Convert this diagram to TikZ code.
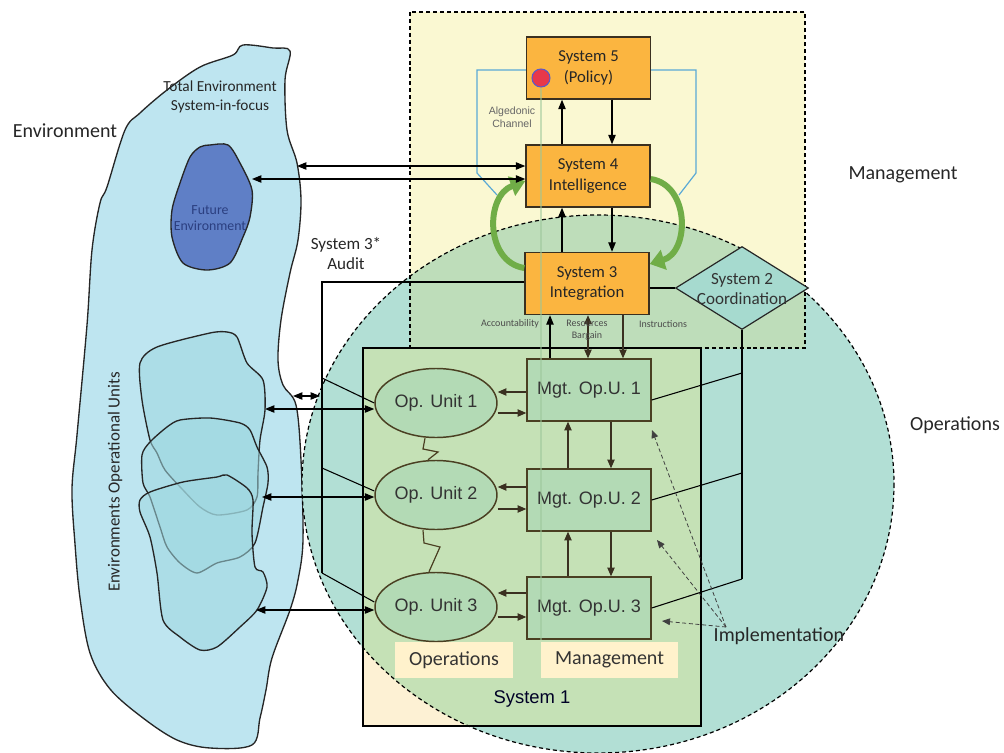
\documentclass[tikz,border=0pt]{standalone}
\usepackage{fontspec}
\setmainfont{Carlito}
\newfontfamily\arialf{Liberation Sans}
\usetikzlibrary{arrows.meta,shapes.geometric}
\definecolor{envblue}{HTML}{BEE5F0}
\definecolor{opblob}{HTML}{9FD8E0}
\definecolor{futblue}{HTML}{5F7FC6}
\definecolor{futtext}{HTML}{2B3F80}
\definecolor{mgtyellow}{HTML}{FAF8D2}
\definecolor{opteal}{HTML}{B2DFD5}
\definecolor{overgreen}{HTML}{BEDDBA}
\definecolor{sonegreen}{HTML}{C5E1B6}
\definecolor{cream}{HTML}{FDF1D4}
\definecolor{labelcream}{HTML}{FFF2CC}
\definecolor{nodegreen}{HTML}{B3DAB5}
\definecolor{sysorange}{HTML}{FBB540}
\definecolor{diamondfill}{HTML}{A6DACF}
\definecolor{greenarr}{HTML}{70AD47}
\definecolor{bluepoly}{HTML}{5AA9D6}
\definecolor{algred}{HTML}{E8384A}
\definecolor{algborder}{HTML}{5A5AC8}
\definecolor{brownline}{HTML}{4A3F22}
\definecolor{boxline}{HTML}{3A3020}
\definecolor{channelline}{HTML}{9CC79A}
\begin{document}
\begin{tikzpicture}[x=0.75pt,y=-0.75pt,
  sysbox/.style={draw=boxline, fill=sysorange, line width=1.1pt, minimum width=93pt, minimum height=46.5pt, inner sep=0pt, align=center, font=\fontsize{12.5}{15.5}\selectfont, text=black!85},
  mgtbox/.style={draw=brownline, fill=nodegreen, line width=1.1pt, minimum width=93pt, minimum height=46.5pt, inner sep=0pt, font=\arialf\fontsize{13.5}{16}\selectfont, text=black!80},
  opell/.style={ellipse, draw=brownline, fill=nodegreen, line width=1.1pt, minimum width=91.5pt, minimum height=51.75pt, inner sep=0pt, font=\arialf\fontsize{13.5}{16}\selectfont, text=black!80},
  conn/.style={line width=0.8pt, draw=black},
  arr/.style={conn, -{Triangle[length=7pt,width=5.5pt]}},
  darr/.style={conn, {Triangle[length=7pt,width=5.5pt]}-{Triangle[length=7pt,width=5.5pt]}},
  barr/.style={line width=0.9pt, draw=boxline, -{Triangle[length=6.5pt,width=5.5pt]}},
  bdarr/.style={line width=0.9pt, draw=boxline, {Triangle[length=6.5pt,width=5.5pt]}-{Triangle[length=6.5pt,width=5.5pt]}},
  garr/.style={line width=4.5pt, draw=greenarr, -{Triangle[length=11pt,width=15pt]}},
  implarr/.style={line width=0.6pt, draw=black!75, dash pattern=on 3pt off 2pt, -{Triangle[length=6pt,width=5pt]}},
  lbl/.style={font=\fontsize{15}{18}\selectfont, text=black!85},
  tiny/.style={font=\fontsize{7.5}{9}\selectfont, text=black!70, align=center},
  blobline/.style={draw=black!85, line width=1pt},
]
\useasboundingbox (0,0) rectangle (1004,753);

% ---------- environment ----------
\draw[blobline, fill=envblue] plot[smooth cycle, tension=0.55] coordinates {
 (243,45) (273,48) (290,51) (285,80) (287,130) (297,163) (301,200) (298,240) (290,273)
 (281,320) (278,360) (283,385) (296,405) (301,460) (303,540) (298,580) (290,610) (272,658)
 (266,690) (260,718) (252,745) (210,748) (177,740) (143,718) (110,689) (90,653) (80,598)
 (75,544) (72,489) (77,435) (87,325) (92,250) (100,203) (107,187) (125,130) (140,113)
 (167,90) (200,67) (233,55)};
\draw[blobline, fill=futblue] plot[smooth cycle, tension=0.5] coordinates {
 (200,147) (210,145) (228,145) (240,163) (252,190) (250,217) (243,237) (230,263) (207,270)
 (183,263) (172,237) (172,210) (180,183) (190,157)};
\draw[blobline, fill=opblob, fill opacity=0.55] plot[smooth cycle, tension=0.45] coordinates {
 (140,363) (157,347) (210,333) (227,332) (237,337) (247,363) (263,380) (265,410) (260,440)
 (258,473) (257,497) (247,510) (217,515) (200,507) (183,490) (165,470) (157,453) (150,440)
 (142,400)};
\draw[blobline, fill=opblob, fill opacity=0.55] plot[smooth cycle, tension=0.45] coordinates {
 (150,442) (167,427) (180,420) (210,418) (240,423) (250,430) (257,447) (267,467) (268,483)
 (263,507) (255,543) (240,557) (217,563) (197,573) (180,563) (167,547) (160,527) (150,497)
 (143,483) (142,455)};
\draw[blobline, fill=opblob, fill opacity=0.55] plot[smooth cycle, tension=0.45] coordinates {
 (140,500) (150,492) (183,482) (217,477) (227,475) (247,488) (253,500) (252,533) (255,567)
 (263,572) (267,587) (257,610) (240,627) (217,647) (200,650) (180,637) (163,620) (157,573)
 (150,537) (140,512)};

% ---------- backgrounds ----------
\fill[mgtyellow] (410,12) rectangle (805,348);
\fill[opteal] (598,484) ellipse [x radius=296, y radius=269];
\begin{scope}
  \clip (410,12) rectangle (805,348);
  \fill[overgreen] (598,484) ellipse [x radius=296, y radius=269];
\end{scope}
\fill[cream] (363,348) rectangle (701,726);
\begin{scope}
  \clip (363,348) rectangle (701,726);
  \fill[sonegreen] (598,484) ellipse [x radius=296, y radius=269];
\end{scope}
\draw[line width=0.9pt, dash pattern=on 3pt off 2.2pt] (598,484) ellipse [x radius=296, y radius=269];
\draw[line width=0.9pt, dash pattern=on 3pt off 2.2pt] (410,12) rectangle (805,348);
\draw[line width=0.9pt] (363,348) rectangle (701,726);

% ---------- label boxes ----------
\node[fill=labelcream, minimum width=88.5pt, minimum height=27pt, inner sep=0pt, font=\fontsize{15}{18}\selectfont, text=black!80] (opslbl) at (454,660) {Operations};
\node[fill=labelcream, minimum width=102.75pt, minimum height=27pt, inner sep=0pt, font=\fontsize{15}{18}\selectfont, text=black!80] (mgtlbl) at (609.5,660) {Management};
\node[font=\arialf\fontsize{13.8}{16}\selectfont, text=black!85!blue] (s1lbl) at (532,699) {System 1};

% ---------- algedonic ----------
\node[circle, fill=algred, draw=algborder, line width=0.8pt, minimum size=13.5pt, inner sep=0pt] (alg) at (541,78) {};

% ---------- main nodes ----------
\node[sysbox] (s5) at (588.5,68) {System 5\\(Policy)};
\node[sysbox] (s4) at (588,176) {System 4\\Intelligence};
\node[sysbox] (s3) at (587,283.5) {System 3\\Integration};
\node[diamond, draw=black!85, fill=diamondfill, line width=0.9pt, minimum width=99.75pt, minimum height=62.25pt, inner sep=0pt] (s2) at (742,288) {};
\node[align=center, font=\fontsize{12.8}{15.5}\selectfont, text=black!80] (s2t) at (742,289) {System 2\\Coordination};

\node[mgtbox] (m1) at (589,390) {Mgt. Op.U. 1};
\node[mgtbox] (m2) at (589,500) {Mgt. Op.U. 2};
\node[mgtbox] (m3) at (589,608) {Mgt. Op.U. 3};
\node[opell] (o1) at (436,403) {Op. Unit 1};
\node[opell] (o2) at (436,495) {Op. Unit 2};
\node[opell] (o3) at (436,607) {Op. Unit 3};

% channel line and blue polygon
\draw[channelline, line width=1.6pt, opacity=0.55] (alg.south) -- (alg.south |- m3.south);
\node[circle, fill=algred, draw=algborder, line width=0.8pt, minimum size=13.5pt, inner sep=0pt] at (alg) {};
\draw[bluepoly, line width=0.9pt] (s5.west |- 0,70) -- (477,70) -- (477,173) -- (497,195);
\draw[bluepoly, line width=0.9pt] (s5.east |- 0,70) -- (696,70) -- (696,173) -- (679,195);
\node[font=\arialf\fontsize{7.9}{9.5}\selectfont, text=black!60, align=center] (algt) at (512,117) {Algedonic\\Channel};

% ---------- green loops ----------
\draw[garr] (s3.west |- 0,268) .. controls (485,262) and (485,196) .. (s4.west |- 0,181);
\draw[garr] (s4.east |- 0,179) .. controls (690,185) and (690,252) .. (s3.east |- 0,264);

% ---------- management arrows ----------
\draw[arr] (s4.north -| 562,0) -- (s5.south -| 562,0);
\draw[arr] (s5.south -| 612,0) -- (s4.north -| 612,0);
\draw[arr] (s3.north -| 562,0) -- (s4.south -| 562,0);
\draw[arr] (s4.south -| 612,0) -- (s3.north -| 612,0);

% to environment
\coordinate (envA) at (297,166);
\coordinate (envF) at (252,179);
\draw[darr] (s4.west |- 0,166) -- (envA);
\draw[darr] (s4.west |- 0,179) -- (envF);

% system 3 - system 2
\draw[conn] (s3.east |- s2.west) -- (s2.west);
\coordinate (c1) at (742,373);
\coordinate (c2) at (742,473);
\coordinate (c3) at (742,579);
\draw[conn] (s2.south) -- (c3);
\draw[conn] (c1) -- (m1.east |- 0,400);
\draw[conn] (c2) -- (m2.east);
\draw[conn] (c3) -- (m3.east);

% system 3* audit
\coordinate (a0) at (322,282);
\coordinate (a1) at (322,378);
\coordinate (a2) at (322,468);
\coordinate (a3) at (322,573);
\draw[conn] (s3.west |- a0) -- (a0) -- (a3);
\draw[conn] (a1) -- (o1.west);
\draw[conn] (a2) -- (o2.west |- 0,491);
\draw[conn] (a3) -- (o3.west |- 0,602);
\node[align=center, font=\fontsize{12.8}{15}\selectfont, text=black!85] (aud) at (346,254) {System 3*\\Audit};

% S3 to system 1
\draw[arr] (m1.north -| 550,0) -- (s3.south -| 550,0);
\draw[bdarr] (m1.north -| 588,0) -- (s3.south -| 588,0);
\draw[barr] (s3.south -| 623,0) -- (m1.north -| 623,0);
\node[tiny] (acc) at (510,324) {Accountability};
\node[tiny] (res) at (587,330) {Resources\\Bargain};
\node[tiny] (ins) at (663,324) {Instructions};

% ---------- operations ----------
\coordinate (e1) at (265,409);
\coordinate (e2) at (262,497);
\coordinate (e3) at (256,610);
\draw[darr] (o1.west |- e1) -- (e1);
\draw[darr] (o2.west |- e2) -- (e2);
\draw[darr] (o3.west |- e3) -- (e3);
\coordinate (sa) at (293,396);
\coordinate (sb) at (320,396);
\draw[darr] (sa) -- (sb);

\draw[barr] (m1.west |- 0,392) -- (o1.east |- 0,392);
\draw[barr] (o1.east |- 0,413) -- (m1.west |- 0,413);
\draw[barr] (m2.west |- 0,487) -- (o2.east |- 0,487);
\draw[barr] (o2.east |- 0,509) -- (m2.west |- 0,509);
\draw[barr] (m3.west |- 0,593) -- (o3.east |- 0,593);
\draw[barr] (o3.east |- 0,617) -- (m3.west |- 0,617);

\draw[barr] (m2.north -| 568,0) -- (m1.south -| 568,0);
\draw[barr] (m1.south -| 611,0) -- (m2.north -| 611,0);
\draw[barr] (m3.north -| 568,0) -- (m2.south -| 568,0);
\draw[barr] (m2.south -| 611,0) -- (m3.north -| 611,0);

\draw[brownline, line width=0.9pt] (o1.south -| 425,0) -- (423,449) -- (438,452) -- (o2.north -| 428,0);
\draw[brownline, line width=0.9pt] (o2.south -| 423,0) -- (424,543) -- (440,547) -- (o3.north -| 429,0);

% ---------- implementation ----------
\node[lbl, anchor=west] (impl) at (709,636) {Implementation};
\coordinate (ic) at (726,627);
\coordinate (t1) at (652,430);
\coordinate (t2) at (657,540);
\coordinate (t3) at (662,621);
\draw[implarr] (ic) -- (t1);
\draw[implarr] (ic) -- (t2);
\draw[implarr] (ic) -- (t3);

% ---------- texts ----------
\node[lbl] (envlbl) at (65,131) {Environment};
\node[lbl] (mgmtlbl) at (903,175) {Management};
\node[lbl] (opslbl2) at (955,425) {Operations};
\node[align=center, font=\fontsize{11.5}{14}\selectfont, text=black!85] (tot) at (220,97) {Total Environment\\System-in-focus};
\node[align=center, font=\fontsize{10.4}{12.5}\selectfont, text=futtext] (fut) at (210,218) {Future\\Environment};
\node[rotate=90, font=\fontsize{12.7}{15}\selectfont, text=black!85] (eou) at (115,482) {Environments Operational Units};
\end{tikzpicture}
\end{document}
